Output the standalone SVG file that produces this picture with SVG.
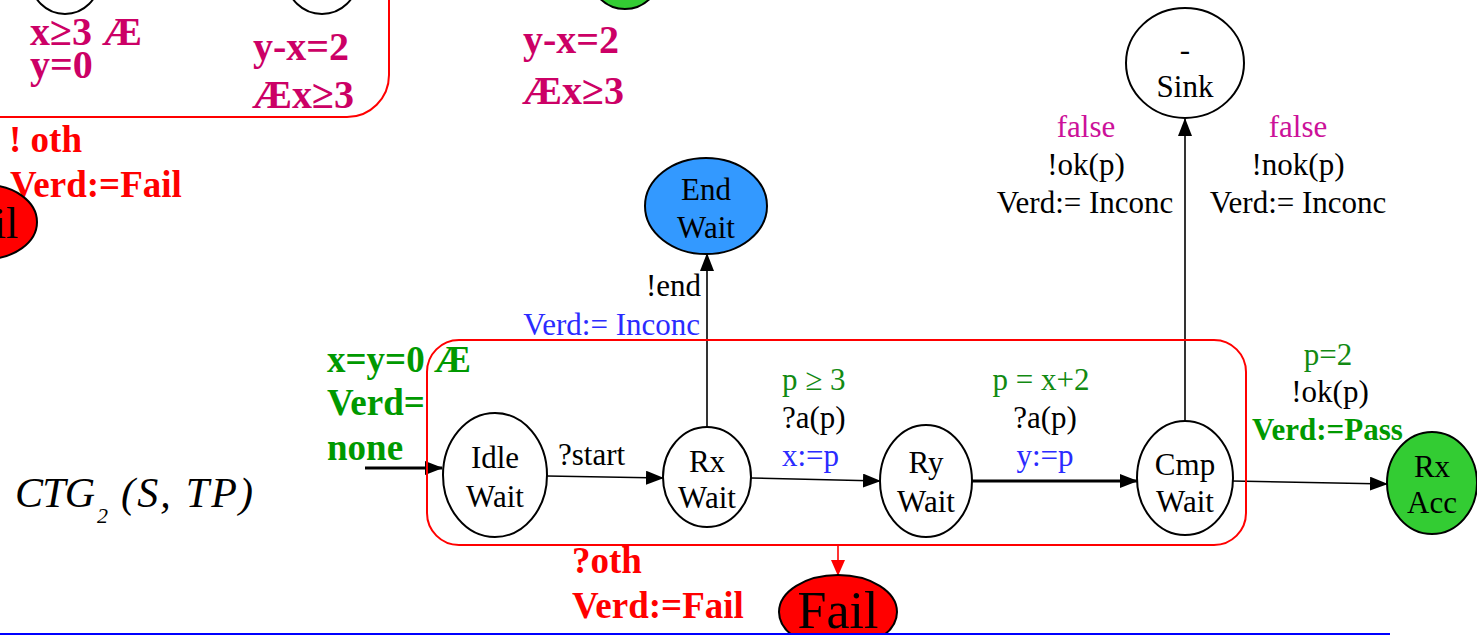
<svg xmlns="http://www.w3.org/2000/svg" width="1477" height="635" viewBox="0 0 1477 635">
  <style>
    .st { fill: #ffffff; stroke: #000000; stroke-width: 2; }
    .lbl { font-family: "Liberation Serif", "Times New Roman", serif; font-size: 31px; fill: #000000; }
    .node { font-family: "Liberation Serif", "Times New Roman", serif; font-size: 31px; fill: #000000; text-anchor: middle; }
    .mag { font-family: "Liberation Serif", "Times New Roman", serif; font-size: 40px; font-weight: bold; fill: #CC0066; }
    .red { font-family: "Liberation Serif", "Times New Roman", serif; font-size: 37px; font-weight: bold; fill: #FF0000; }
    .gb { font-family: "Liberation Serif", "Times New Roman", serif; font-weight: bold; fill: #009900; }
    .grn { fill: #128A12; }
    .blu { fill: #2B2BFF; }
    .pink { fill: #CC1199; }
    .edge { fill: none; stroke: #000000; stroke-width: 1.6; }
    .region { fill: none; stroke: #FF0000; stroke-width: 2; }
    .ttl { font-family: "Liberation Serif", "Times New Roman", serif; font-style: italic; fill: #000000; }
  </style>
  <defs>
    <marker id="ah" markerUnits="userSpaceOnUse" markerWidth="18" markerHeight="14" refX="17" refY="7" orient="auto">
      <path d="M0,0 L18,7 L0,14 Z" fill="#000000"/>
    </marker>
    <marker id="ahRed" markerUnits="userSpaceOnUse" markerWidth="16" markerHeight="14" refX="15" refY="7" orient="auto">
      <path d="M0,0 L16,7 L0,14 Z" fill="#FF0000"/>
    </marker>
  </defs>

  <rect x="0" y="0" width="1477" height="635" fill="#ffffff"/>

  <!-- upper-left fragment of the previous graph -->
  <g id="prev-fragment">
    <path class="region" d="M -10 117 H 347 A 42 42 0 0 0 389 75 V -10"/>
    <ellipse class="st" cx="65" cy="-20" rx="34" ry="34"/>
    <ellipse class="st" cx="322" cy="-20" rx="35" ry="34"/>
    <ellipse cx="625" cy="-28" rx="36" ry="37" fill="#33CC33" stroke="#000000" stroke-width="2"/>
    <text class="mag" x="30" y="45">x≥3 Æ</text>
    <text class="mag" x="30" y="78">y=0</text>
    <text class="mag" x="253" y="60">y-x=2</text>
    <text class="mag" x="252" y="108">Æx≥3</text>
    <text class="mag" x="523" y="53">y-x=2</text>
    <text class="mag" x="522" y="104">Æx≥3</text>
    <text class="red" x="9" y="152">! oth</text>
    <text class="red" x="10" y="197">Verd:=Fail</text>
    <ellipse cx="-14" cy="222" rx="51" ry="37" fill="#FF0000" stroke="#000000" stroke-width="2"/>
    <text x="-16" y="238" font-family="Liberation Serif, serif" font-size="44" fill="#000000" text-anchor="middle">Fail</text>
  </g>

  <!-- connectors -->
  <g id="connectors">
    <line x1="365" y1="468" x2="442" y2="468" stroke="#000000" stroke-width="3" marker-end="url(#ah)"/>
    <line class="edge" x1="547" y1="476" x2="663" y2="478" marker-end="url(#ah)"/>
    <line class="edge" x1="751" y1="478" x2="880" y2="481" marker-end="url(#ah)"/>
    <line x1="972" y1="481" x2="1137" y2="481" stroke="#000000" stroke-width="3" marker-end="url(#ah)"/>
    <line class="edge" x1="1232" y1="481" x2="1387" y2="484" marker-end="url(#ah)"/>
    <line class="edge" x1="707" y1="427" x2="707" y2="254" marker-end="url(#ah)"/>
    <line class="edge" x1="1185" y1="422" x2="1185" y2="119" marker-end="url(#ah)"/>
    <line x1="838" y1="545" x2="838" y2="575" stroke="#FF0000" stroke-width="1.6" marker-end="url(#ahRed)"/>
  </g>

  <!-- state region -->
  <g id="wait-region">
    <rect class="region" x="427" y="340" width="819" height="205" rx="32" ry="32"/>
  </g>

  <!-- states -->
  <g id="idle-wait">
    <ellipse class="st" cx="495" cy="475" rx="52" ry="62"/>
    <text class="node" x="495" y="468">Idle</text>
    <text class="node" x="495" y="507">Wait</text>
  </g>
  <g id="rx-wait">
    <ellipse class="st" cx="707" cy="477" rx="44" ry="50"/>
    <text class="node" x="707" y="472">Rx</text>
    <text class="node" x="707" y="508">Wait</text>
  </g>
  <g id="ry-wait">
    <ellipse class="st" cx="926" cy="481" rx="46" ry="56"/>
    <text class="node" x="926" y="473">Ry</text>
    <text class="node" x="926" y="512">Wait</text>
  </g>
  <g id="cmp-wait">
    <ellipse class="st" cx="1185" cy="478" rx="48" ry="57"/>
    <text class="node" x="1185" y="475">Cmp</text>
    <text class="node" x="1185" y="512">Wait</text>
  </g>
  <g id="rx-acc">
    <ellipse cx="1432" cy="483" rx="45" ry="51" fill="#33CC33" stroke="#000000" stroke-width="2"/>
    <text class="node" x="1432" y="477">Rx</text>
    <text class="node" x="1432" y="513">Acc</text>
  </g>
  <g id="end-wait">
    <ellipse cx="706" cy="206" rx="61" ry="48" fill="#3399FF" stroke="#000000" stroke-width="2"/>
    <text class="node" x="706" y="200">End</text>
    <text class="node" x="706" y="238">Wait</text>
  </g>
  <g id="sink">
    <ellipse class="st" cx="1185" cy="63" rx="59" ry="55"/>
    <text class="node" x="1185" y="60">-</text>
    <text class="node" x="1185" y="97">Sink</text>
  </g>
  <g id="fail">
    <ellipse cx="838" cy="612" rx="59" ry="37" fill="#FF0000" stroke="#000000" stroke-width="2"/>
    <text x="838" y="628" font-family="Liberation Serif, serif" font-size="52" fill="#000000" text-anchor="middle">Fail</text>
  </g>

  <!-- transition labels -->
  <g id="labels">
    <text class="gb" x="327" y="372" font-size="37">x=y=0 Æ</text>
    <text class="gb" x="327" y="415" font-size="37">Verd=</text>
    <text class="gb" x="327" y="460" font-size="37">none</text>

    <text class="lbl" x="558" y="465">?start</text>

    <text class="lbl" x="701" y="296" text-anchor="end">!end</text>
    <text class="lbl blu" x="700" y="335" text-anchor="end">Verd:= Inconc</text>

    <text class="lbl grn" x="782" y="390">p ≥ 3</text>
    <text class="lbl" x="782" y="428">?a(p)</text>
    <text class="lbl blu" x="782" y="466">x:=p</text>

    <text class="lbl grn" x="1041" y="390" text-anchor="middle">p = x+2</text>
    <text class="lbl" x="1045" y="428" text-anchor="middle">?a(p)</text>
    <text class="lbl blu" x="1045" y="466" text-anchor="middle">y:=p</text>

    <text class="lbl grn" x="1328" y="365" text-anchor="middle">p=2</text>
    <text class="lbl" x="1330" y="402" text-anchor="middle">!ok(p)</text>
    <text class="gb" x="1252" y="440" font-size="31">Verd:=Pass</text>

    <text class="lbl pink" x="1086" y="137" text-anchor="middle">false</text>
    <text class="lbl" x="1086" y="175" text-anchor="middle">!ok(p)</text>
    <text class="lbl" x="1085" y="213" text-anchor="middle">Verd:= Inconc</text>
    <text class="lbl pink" x="1298" y="137" text-anchor="middle">false</text>
    <text class="lbl" x="1298" y="175" text-anchor="middle">!nok(p)</text>
    <text class="lbl" x="1298" y="213" text-anchor="middle">Verd:= Inconc</text>

    <text class="red" x="572" y="573">?oth</text>
    <text class="red" x="572" y="618">Verd:=Fail</text>
  </g>

  <!-- graph title -->
  <g id="title">
    <text class="ttl" x="15" y="507" font-size="42" textLength="80">CTG</text>
    <text class="ttl" x="97" y="523" font-size="22">2</text>
    <text class="ttl" x="121" y="507" font-size="42" textLength="132">(S, TP)</text>
  </g>

  <line x1="0" y1="634" x2="1390" y2="634" stroke="#0000FF" stroke-width="2"/>
</svg>
